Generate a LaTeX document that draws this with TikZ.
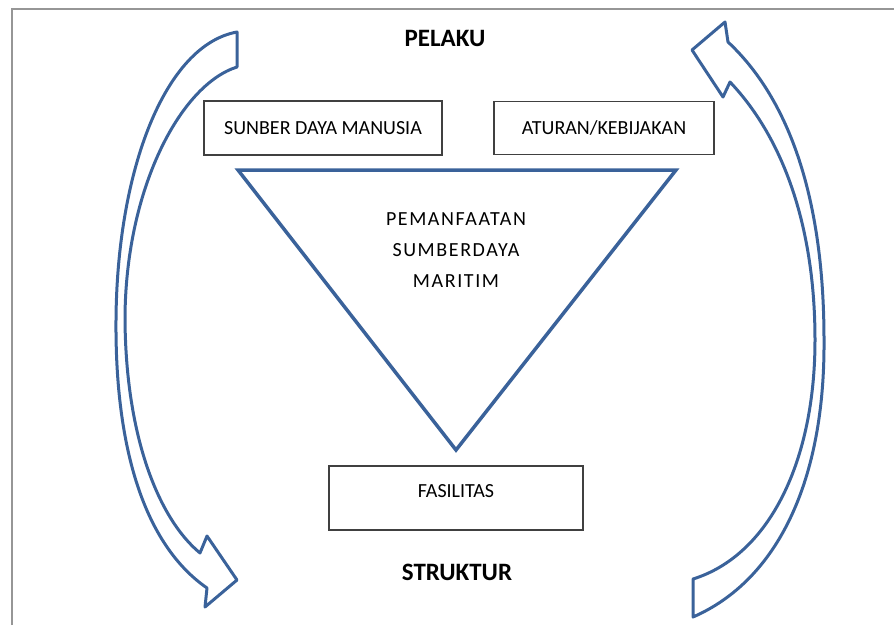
\documentclass[tikz,border=0pt]{standalone}
\usepackage{fontspec}
\setmainfont{Carlito}
\usepackage{tikz}
\usetikzlibrary{positioning}
\definecolor{arrowblue}{RGB}{58,98,154}
\definecolor{framegray}{RGB}{150,150,150}

\begin{document}
\begin{tikzpicture}[x=1pt,y=-1pt,
    box/.style={draw=black!75, line width=1.3pt, inner sep=0pt, font=\fontsize{20}{24}\selectfont},
    title/.style={font=\bfseries\fontsize{25}{30}\selectfont},
    bigarrow/.style={draw=arrowblue, line width=3pt, line join=round}]
    \useasboundingbox (0,0) rectangle (894,625);

    % Frame
    \draw[framegray, line width=2pt] (12,625) -- (12,9) -- (894,9);

    % Labels
    \node[title] (pelaku) at (445,38) {PELAKU};
    \node[title] (struktur) at (457,572) {STRUKTUR};

    % Boxes
    \node[box, minimum width=238, minimum height=54] (sdm) at (323,128) {SUNBER DAYA MANUSIA};
    \node[box, minimum width=220, minimum height=53] (aturan) at (604,128) {ATURAN/KEBIJAKAN};
    \node[box, minimum width=254, minimum height=64] (fasilitas) at (456,498) {};
    \node[font=\fontsize{20}{24}\selectfont, inner sep=0pt] (fastext) at (456,491) {FASILITAS};

    % Triangle
    \coordinate (tl) at (238,170);
    \coordinate (tr) at (676,170);
    \coordinate (tb) at (456,450);
    \draw[arrowblue, line width=3.5pt] (tl) -- (tr) -- (tb) -- cycle;
    \node[align=center, font=\fontsize{20}{31}\selectfont\addfontfeature{LetterSpace=8}] (pemanfaatan) at (456,250)
        {PEMANFAATAN\\SUMBERDAYA\\MARITIM};

    % Left arrow (down)
    \draw[bigarrow] (237,32) .. controls (165,45) and (117,170) .. (116,320)
        .. controls (115,450) and (145,545) .. (207,588)
        -- (205,607) -- (237,580) -- (207,536) -- (200,553)
        .. controls (160,520) and (126,440) .. (125,320)
        .. controls (125,190) and (180,85) .. (237,67) -- cycle;

    % Right arrow (up)
    \draw[bigarrow] (693,617) .. controls (778,580) and (825,480) .. (824,340)
        .. controls (824,200) and (790,100) .. (728,42)
        -- (725,22) -- (692,50) -- (723,97) -- (730,82)
        .. controls (785,140) and (815,230) .. (815,340)
        .. controls (815,460) and (770,555) .. (693,579) -- cycle;
\end{tikzpicture}
\end{document}
